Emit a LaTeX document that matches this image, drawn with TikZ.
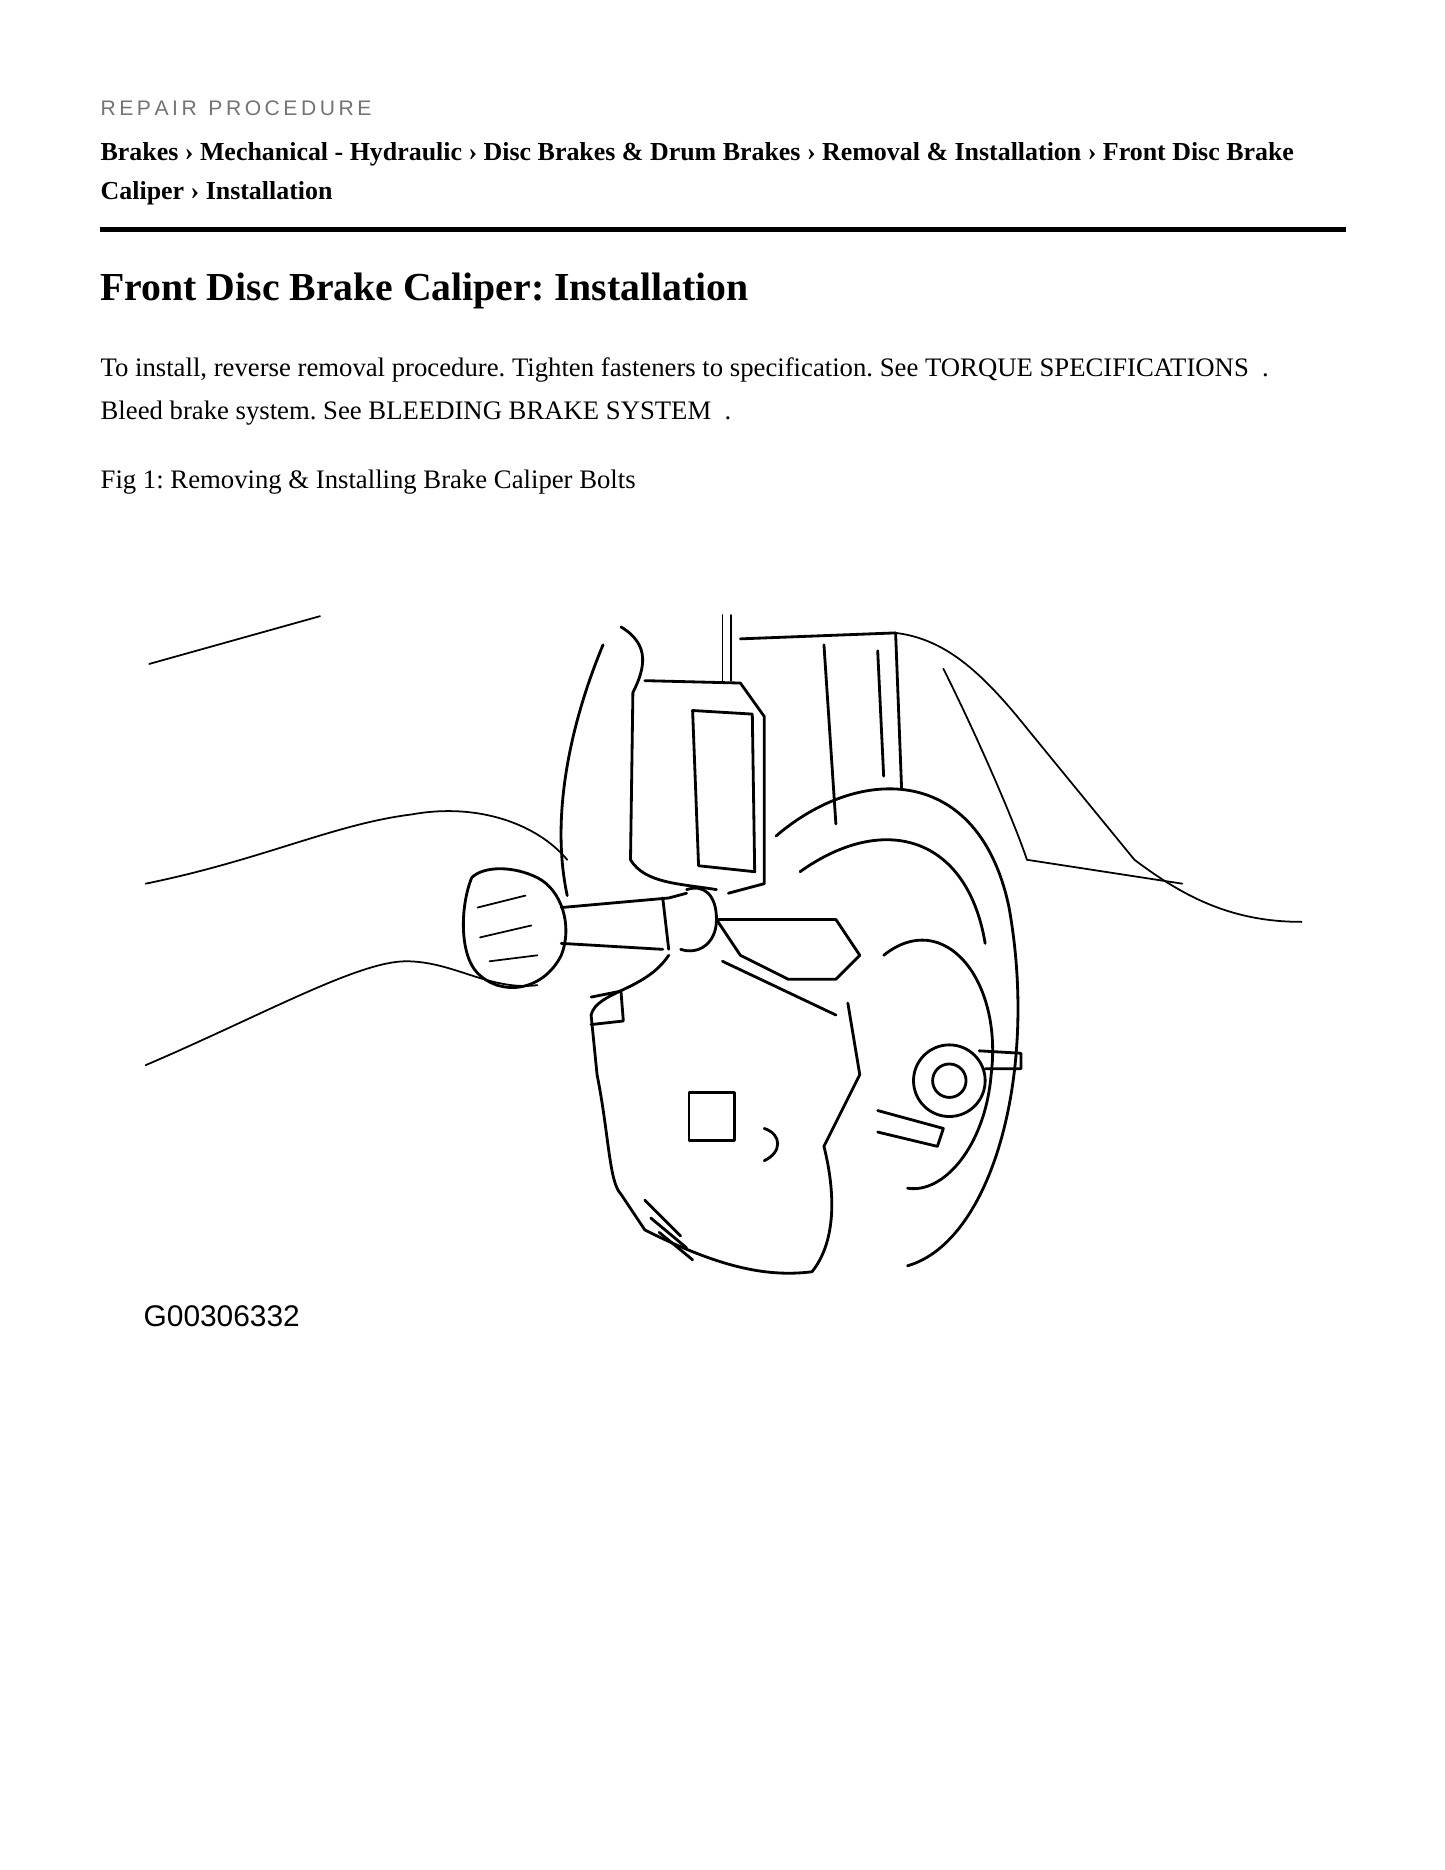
\documentclass[tikz,border=0pt]{standalone}
\usepackage{fontspec}
\setmainfont{Liberation Serif}
\setsansfont{Liberation Sans}
\frenchspacing
\begin{document}
\begin{tikzpicture}
	[x=0.02388cm,y=-0.02388cm,
	every node/.style={inner sep=0pt,anchor=west},
	ink/.style={line width=1.6pt,line join=round,line cap=round},
	thin ink/.style={line width=1pt,line cap=round}]
	\useasboundingbox (0,0) rectangle (1210,1566);

	% page header
	\node (kind) at (84,91) {\sffamily\fontsize{12}{14}\selectfont\color{black!55}R\,E\,P\,A\,I\,R\ \ P\,R\,O\,C\,E\,D\,U\,R\,E};
	\node (path1) at (84,129) {\fontsize{14.75}{17}\selectfont\bfseries Brakes › Mechanical - Hydraulic › Disc Brakes \& Drum Brakes › Removal \& Installation › Front Disc Brake};
	\node (path2) at (84,162) {\fontsize{14.75}{17}\selectfont\bfseries Caliper › Installation};
	\coordinate (ruleA) at (84,192);
	\coordinate (ruleB) at (1127,192);
	\draw[line width=2.8pt] (ruleA) -- (ruleB);
	\node (title) at (84,244) {\fontsize{22.6}{26}\selectfont\bfseries Front Disc Brake Caliper: Installation};
	\node (body1) at (84,310) {\fontsize{15.2}{17}\selectfont To install, reverse removal procedure. Tighten fasteners to specification. See TORQUE SPECIFICATIONS\ \ .};
	\node (body2) at (84,346) {\fontsize{15.2}{17}\selectfont Bleed brake system. See BLEEDING BRAKE SYSTEM\ \ .};
	\node (caption) at (84,404) {\fontsize{15.2}{17}\selectfont Fig 1: Removing \& Installing Brake Caliper Bolts};

	% figure: arm and hand
	\draw[thin ink] (125,556) -- (268,516);
	\draw[thin ink] (122,740) .. controls (220,720) and (280,690) .. (345,682)
		.. controls (400,672) and (450,690) .. (475,720);
	\draw[thin ink] (122,892) .. controls (220,850) and (300,805) .. (340,805)
		.. controls (380,805) and (410,830) .. (450,825);
	\draw[ink] (395,735) .. controls (385,760) and (385,800) .. (400,815)
		.. controls (420,835) and (455,830) .. (470,800)
		.. controls (480,775) and (470,745) .. (450,735)
		.. controls (430,725) and (405,725) .. (395,735);
	\draw[thin ink] (400,760) -- (440,750) (402,785) -- (445,775) (410,805) -- (450,800);
	% wrench
	\draw[ink] (470,760) -- (560,752) -- (575,748) (470,790) -- (555,795) (555,752) -- (560,795);
	\draw[ink] (575,745) .. controls (590,740) and (600,750) .. (600,770)
		.. controls (600,790) and (585,800) .. (570,795);
	% knuckle and strut
	\draw[thin ink] (605,515) -- (605,570) (612,515) -- (612,570);
	\draw[ink] (520,525) .. controls (545,540) and (540,560) .. (530,580)
		-- (528,720) .. controls (540,740) and (570,740) .. (600,745);
	\draw[ink] (540,570) -- (620,572) -- (640,600) -- (640,740) -- (610,748);
	\draw[ink] (580,595) -- (630,598) -- (632,730) -- (585,725) -- cycle;
	\draw[ink] (505,540) .. controls (480,600) and (460,680) .. (475,750);
	\draw[ink] (620,535) -- (750,530) -- (755,660);
	\draw[ink] (690,540) -- (700,690) (735,545) -- (740,650);
	% fender
	\draw[thin ink] (750,530) .. controls (790,535) and (820,560) .. (860,610)
		-- (950,720) .. controls (990,750) and (1030,772) .. (1090,772);
	\draw[thin ink] (790,560) .. controls (820,620) and (850,690) .. (860,720)
		-- (990,740);
	% disc and hub
	\draw[ink] (650,700) .. controls (720,640) and (820,640) .. (845,760)
		.. controls (870,900) and (830,1040) .. (760,1060);
	\draw[ink] (670,730) .. controls (740,680) and (810,700) .. (825,790);
	\draw[ink] (740,800) .. controls (790,760) and (840,820) .. (830,900)
		.. controls (825,960) and (790,1000) .. (760,995);
	\draw[ink] (795,905) circle [radius=30];
	\draw[ink] (795,905) circle [radius=14];
	\draw[ink] (820,880) -- (855,882) -- (855,895) -- (825,895);
	\draw[ink] (735,930) -- (790,945) -- (785,960) -- (735,948);
	% caliper body
	\draw[ink] (600,770) -- (700,770) -- (720,800) -- (700,820) -- (660,820) -- (620,800) -- cycle;
	\draw[ink] (605,805) -- (700,850);
	\draw[ink] (560,800) .. controls (540,830) and (500,830) .. (495,850)
		-- (500,900) .. controls (510,950) and (510,990) .. (520,1000)
		-- (540,1030) .. controls (600,1060) and (640,1070) .. (680,1065)
		.. controls (700,1040) and (700,1000) .. (690,960)
		-- (720,900) -- (710,840);
	\draw[ink] (540,1005) -- (570,1035) (545,1020) -- (575,1045) (552,1032) -- (580,1055);
	\draw[ink] (577,915) rectangle (615,955);
	\draw[ink] (640,945) .. controls (655,950) and (655,965) .. (640,972);
	\draw[ink] (495,835) -- (520,830) -- (522,855) -- (495,858);

	% figure code
	\node (code) at (120,1102) {\sffamily\fontsize{17}{20}\selectfont G00306332};
\end{tikzpicture}
\end{document}
